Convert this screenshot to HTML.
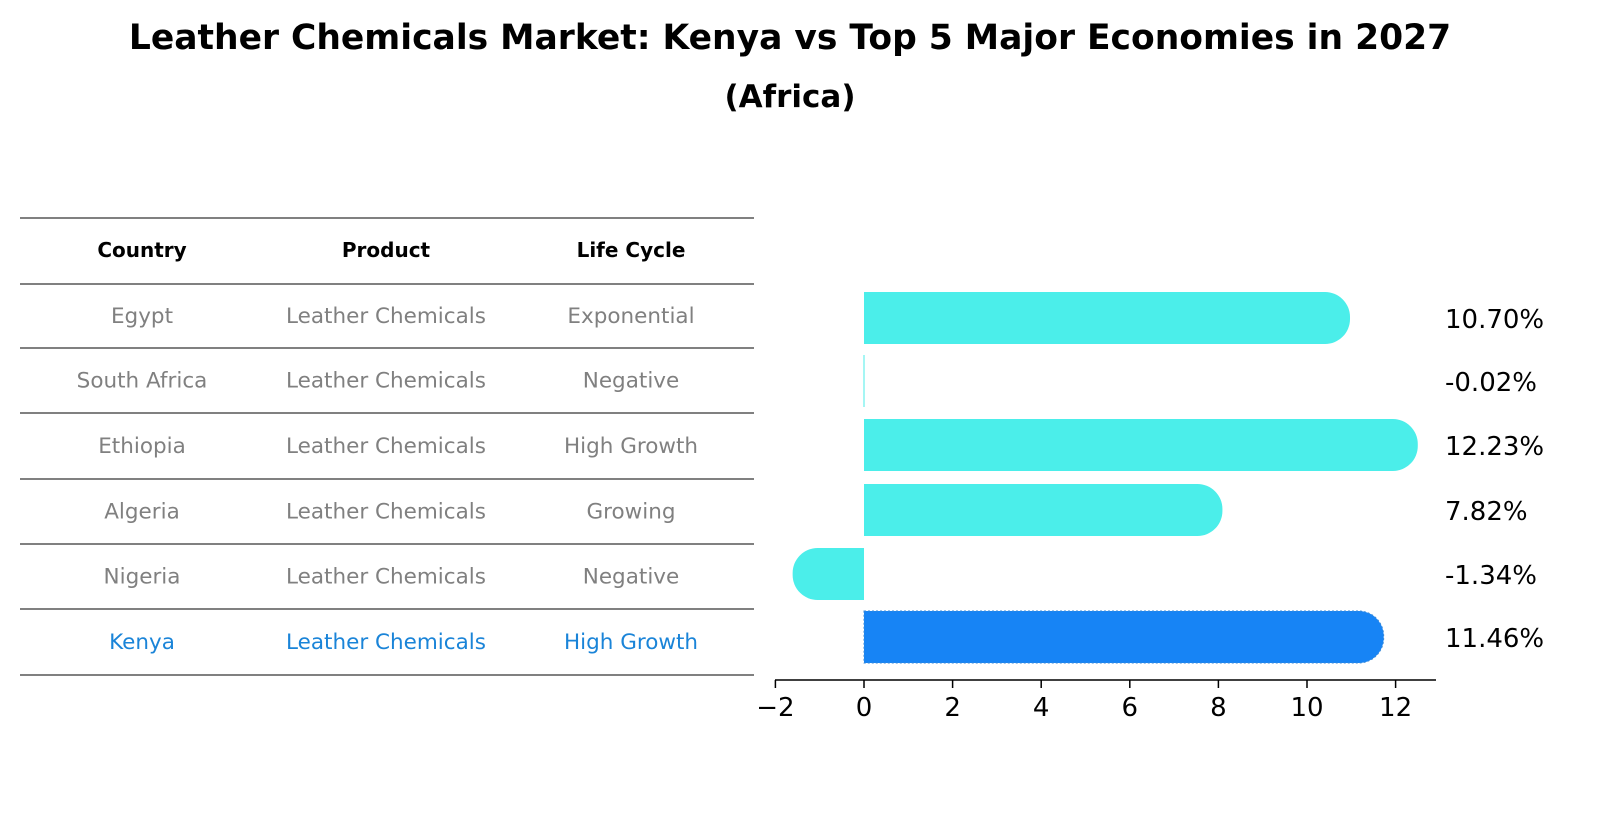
<!DOCTYPE html>
<html><head><meta charset="utf-8"><style>
body{margin:0;background:#fff;font-family:"Liberation Sans","DejaVu Sans",sans-serif}
</style></head><body>
<svg width="1604" height="823" xmlns="http://www.w3.org/2000/svg" font-family="DejaVu Sans, Liberation Sans, sans-serif">
<text x="790" y="49" text-anchor="middle" font-size="34.5" font-weight="bold">Leather Chemicals Market: Kenya vs Top 5 Major Economies in 2027</text>
<text x="790" y="107" text-anchor="middle" font-size="31" font-weight="bold">(Africa)</text>
<g id="table"></g>
<g id="bars"></g>
</svg>
<script>
const countries=["Egypt","South Africa","Ethiopia","Algeria","Nigeria","Kenya"];
const products=["Leather Chemicals","Leather Chemicals","Leather Chemicals","Leather Chemicals","Leather Chemicals","Leather Chemicals"];
const lifeCycles=["Exponential","Negative","High Growth","Growing","Negative","High Growth"];
const values=[10.70,-0.02,12.23,7.82,-1.34,11.46];
const xTicks=[-2,0,2,4,6,8,10,12];
const NS="http://www.w3.org/2000/svg";
function mk(t,a,p,txt){const e=document.createElementNS(NS,t);for(const k in a)e.setAttribute(k,a[k]);if(txt!=null)e.textContent=txt;p.appendChild(e);return e;}
const tbl=document.getElementById('table');
const lineYs=[218,284,348,413,479,544,609,675];
lineYs.forEach(y=>{const l=mk('line',{x1:20,x2:754,y1:y,y2:y,stroke:'#000','stroke-width':1},tbl);});
const cx=[142,386,631];
["Country","Product","Life Cycle"].forEach((h,i)=>{const t=mk('text',{x:cx[i],y:257,'text-anchor':'middle','font-size':20,'font-weight':'bold'},tbl,h);});
countries.forEach((c,r)=>{const y=(lineYs[r+1]+lineYs[r+2])/2+7;const col=c==="Kenya"?"#1a84d8":"#808080";
[c,products[r],lifeCycles[r]].forEach((v,i)=>{const t=mk('text',{x:cx[i],y:y,'text-anchor':'middle','font-size':21.5,fill:col},tbl,v);});});
const g=document.getElementById('bars');
const x0=864,ppu=44.3;const X=v=>x0+v*ppu;
const rowY=[318,381,445,510,574,637];const bh=52,r=25;
values.forEach((v,i)=>{const kenya=countries[i]==="Kenya";const col=kenya?"#1784f5":"#4beeea";const y=rowY[i]-bh/2;
let d;const a=X(0),b=X(v)+(v>0?12:-12);
if(Math.abs(v)<0.1){d=`M${a-0.5},${y}h1v${bh}h-1z`;}
else if(v>0){d=`M${a},${y}H${b-r}A${r},${r} 0 0 1 ${b},${y+r}V${y+bh-r}A${r},${r} 0 0 1 ${b-r},${y+bh}H${a}Z`;}
else{d=`M${a},${y}H${b+r}A${r},${r} 0 0 0 ${b},${y+r}V${y+bh-r}A${r},${r} 0 0 0 ${b+r},${y+bh}H${a}Z`;}
const attrs={d:d,fill:col};if(kenya){attrs.stroke='#3a8ad8';attrs['stroke-dasharray']='2,2';attrs['stroke-width']=1;}
const p=mk('path',attrs,g);
const t=mk('text',{x:1445,y:rowY[i]+10,'font-size':26},g,v.toFixed(2)+'%');});
const ax=mk('line',{x1:775,x2:1436,y1:680,y2:680,stroke:'#000','stroke-width':1.5},g);
xTicks.forEach(v=>{const l=mk('line',{x1:X(v),x2:X(v),y1:680,y2:688,stroke:'#000','stroke-width':1.5},g);
const t=mk('text',{x:X(v),y:716,'text-anchor':'middle','font-size':26},g,v<0?'\u2212'+Math.abs(v):String(v));});
</script>
</body></html>
